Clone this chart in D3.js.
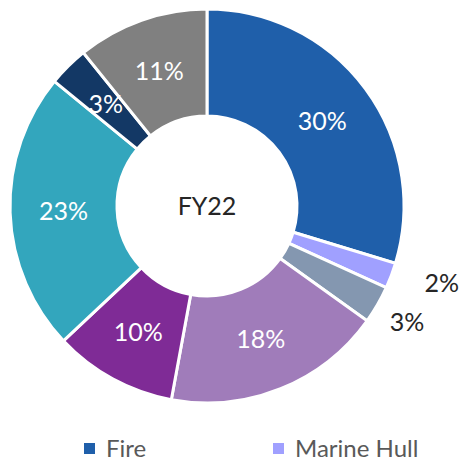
<!DOCTYPE html>
<html>
<head>
<meta charset="utf-8">
<script src="https://cdn.jsdelivr.net/npm/d3@7"></script>
<style>
  html, body { margin: 0; padding: 0; background: #fff; }
  svg { display: block; font-family: Lato, "Open Sans", sans-serif; }
</style>
</head>
<body>
<svg id="chart" width="463" height="463"></svg>
<script>
// slices, clockwise from 12 o'clock
const categories = ["Fire", "Marine Hull", "Marine Cargo", "Motor", "Health", "Engineering", "Liability", "Others"];
const shares = [29.7, 2.1, 3.1, 18.0, 10.1, 22.9, 3.3, 10.8];
const colors = ["#1f5faa", "#a0a0ff", "#8497b0", "#a07cba", "#7f2b96", "#33a6bd", "#133865", "#808080"];
// small slices get their label outside the ring (radius, small angle nudge in degrees)
const outsideRadius = [0, 247, 231, 0, 0, 0, 0, 0];
const outsideNudge = [0, -2.6, 0, 0, 0, 0, 0, 0];
const legendItems = ["Fire", "Marine Hull"];
const centerTitle = "FY22";

const svg = d3.select("#chart");
const cx = 207, cy = 206;
const outerR = 197, innerR = 90;

const data = categories.map((c, i) => ({
  name: c, value: shares[i], color: colors[i],
  outR: outsideRadius[i], nudge: outsideNudge[i] * Math.PI / 180
}));

const pie = d3.pie().sort(null).value(d => d.value);
const arc = d3.arc().innerRadius(innerR).outerRadius(outerR);

const g = svg.append("g").attr("transform", `translate(${cx},${cy})`);
const arcs = pie(data);

g.selectAll("path.slice")
  .data(arcs)
  .enter()
  .append("path")
  .attr("class", "slice")
  .attr("d", arc)
  .attr("fill", d => d.data.color)
  .attr("stroke", "#fff")
  .attr("stroke-width", 3);

function labelPos(d) {
  if (!d.data.outR) return arc.centroid(d);
  const a = (d.startAngle + d.endAngle) / 2 + d.data.nudge;
  return [Math.sin(a) * d.data.outR, -Math.cos(a) * d.data.outR];
}

g.selectAll("text.pct")
  .data(arcs)
  .enter()
  .append("text")
  .attr("class", "pct")
  .attr("transform", d => `translate(${labelPos(d)})`)
  .attr("text-anchor", "middle")
  .attr("dy", "0.36em")
  .attr("font-size", 25)
  .attr("fill", d => d.data.outR ? "#262626" : "#fff")
  .text(d => Math.round(d.data.value) + "%");

g.append("text")
  .attr("text-anchor", "middle")
  .attr("dy", "0.36em")
  .attr("font-size", 25)
  .attr("fill", "#262626")
  .text(centerTitle);

// legend row (the rest of the entries fall below the frame)
const legendX = d3.scalePoint().domain(legendItems).range([84, 273]);
const leg = svg.selectAll("g.legend")
  .data(legendItems)
  .enter()
  .append("g")
  .attr("class", "legend")
  .attr("transform", d => `translate(${legendX(d)},443)`);

leg.append("rect")
  .attr("width", 11)
  .attr("height", 11)
  .attr("fill", d => colors[categories.indexOf(d)]);

leg.append("text")
  .attr("x", 22)
  .attr("y", 14)
  .attr("font-size", 24)
  .attr("fill", "#595959")
  .text(d => d);
</script>
</body>
</html>
